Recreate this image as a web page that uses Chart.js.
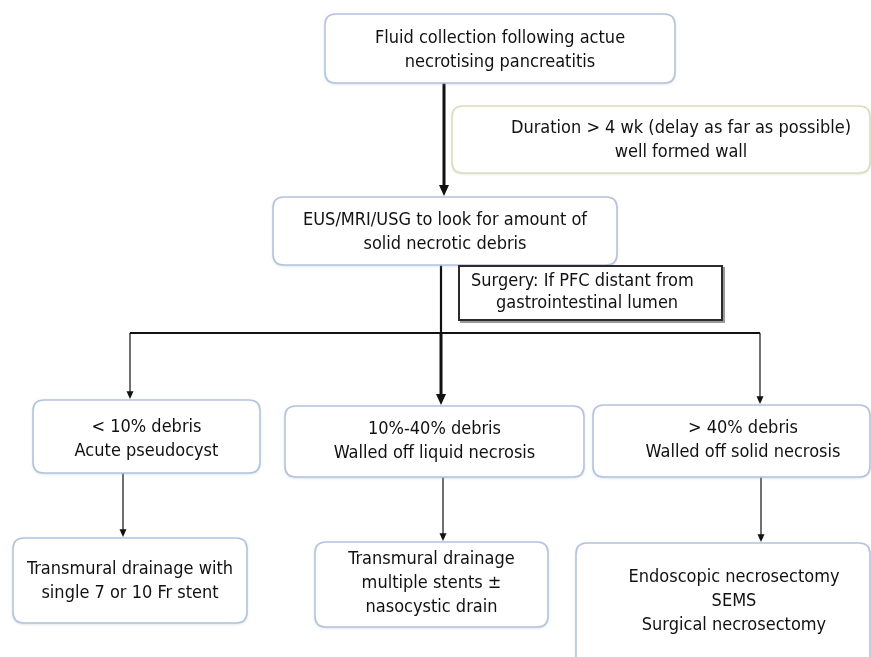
<!DOCTYPE html>
<html>
<head>
<meta charset="utf-8">
<script src="https://cdn.jsdelivr.net/npm/chart.js@4"></script>
<style>
  html, body { margin: 0; padding: 0; background: #fff; }
  #wrap { width: 871px; height: 657px; }
</style>
</head>
<body>
<div id="wrap"><canvas id="chart" width="871" height="657"></canvas></div>
<script>
// node texts of the flow chart
const nodeIds = ['start', 'duration', 'imaging', 'surgery', 'low', 'mid', 'high', 'lowTx', 'midTx', 'highTx'];
const nodeTexts = [
    ['Fluid collection following actue', 'necrotising pancreatitis'],
    ['Duration > 4 wk (delay as far as possible)', 'well formed wall'],
    ['EUS/MRI/USG to look for amount of', 'solid necrotic debris'],
    ['Surgery: If PFC distant from', 'gastrointestinal lumen'],
    ['< 10% debris', 'Acute pseudocyst'],
    ['10%-40% debris', 'Walled off liquid necrosis'],
    ['> 40% debris', 'Walled off solid necrosis'],
    ['Transmural drainage with', 'single 7 or 10 Fr stent'],
    ['Transmural drainage', 'multiple stents \u00b1', 'nasocystic drain'],
    ['Endoscopic necrosectomy', 'SEMS', 'Surgical necrosectomy']
];
// links between nodes (from, to)
const linkFrom = ['start', 'imaging', 'imaging', 'imaging', 'low', 'mid', 'high'];
const linkTo   = ['imaging', 'low', 'mid', 'high', 'lowTx', 'midTx', 'highTx'];

// layout of the page, in axis units (x: 0..871, y: 0..657 from top)
const layout = {
    start:    { box: [325, 14, 675, 83],   kind: 'blue', cy: 50 },
    duration: { box: [452, 106, 870, 173], kind: 'olive', cx: 681, cy: 140 },
    imaging:  { box: [273, 197, 617, 265], kind: 'blue', cy: 232 },
    surgery:  { box: [459, 266, 722, 320], kind: 'dark', align: 'left', tx: [471, 496], cy: 292 },
    low:      { box: [33, 400, 260, 473],  kind: 'blue', cy: 439 },
    mid:      { box: [285, 406, 584, 477], kind: 'blue', cy: 441 },
    high:     { box: [593, 405, 870, 477], kind: 'blue', cx: 743, cy: 440 },
    lowTx:    { box: [13, 538, 247, 623],  kind: 'blue', cy: 581 },
    midTx:    { box: [315, 542, 548, 627], kind: 'blue', cy: 583 },
    highTx:   { box: [576, 543, 870, 668], kind: 'blue', cx: 734, cy: 601 }
};
const splitY = 333;
const linkX = { start: 444, imaging: 441, low: 123, mid: 443, high: 761 };
const branchX = { low: 130, mid: 441, high: 760 };
const heavyLinks = ['start>imaging', 'imaging>mid'];

const flowPlugin = {
    id: 'flow',
    afterDatasetsDraw(chart) {
        const c = chart.ctx;
        const sx = chart.scales.x, sy = chart.scales.y;
        const px = v => sx.getPixelForValue(v);
        const py = v => sy.getPixelForValue(v);

        const roundRect = (x0, y0, x1, y1, r) => {
            c.beginPath();
            c.moveTo(x0 + r, y0);
            c.lineTo(x1 - r, y0);
            c.quadraticCurveTo(x1, y0, x1, y0 + r);
            c.lineTo(x1, y1 - r);
            c.quadraticCurveTo(x1, y1, x1 - r, y1);
            c.lineTo(x0 + r, y1);
            c.quadraticCurveTo(x0, y1, x0, y1 - r);
            c.lineTo(x0, y0 + r);
            c.quadraticCurveTo(x0, y0, x0 + r, y0);
            c.closePath();
        };

        const arrow = (x, y0, y1, w, head) => {
            c.save();
            c.strokeStyle = '#111';
            c.fillStyle = '#111';
            c.lineWidth = w;
            c.beginPath();
            c.moveTo(px(x), py(y0));
            c.lineTo(px(x), py(y1) - (head ? head * 1.6 : 0));
            c.stroke();
            if (head) {
                c.beginPath();
                c.moveTo(px(x), py(y1));
                c.lineTo(px(x) - head, py(y1) - head * 2.2);
                c.lineTo(px(x) + head, py(y1) - head * 2.2);
                c.closePath();
                c.fill();
            }
            c.restore();
        };

        // connectors
        linkFrom.forEach((from, i) => {
            const to = linkTo[i];
            const a = layout[from].box, b = layout[to].box;
            const thick = heavyLinks.includes(from + '>' + to);
            const w = thick ? 3 : 1.2, head = thick ? 5 : 3.5;
            if (from === 'imaging') {
                arrow(branchX[to], splitY, b[1] - 1, w, head);
            } else {
                arrow(linkX[from], a[3], b[1] - 1, w, head);
            }
        });
        // trunk and split bar
        arrow(linkX.imaging, layout.imaging.box[3], splitY, 2.2, 0);
        c.save();
        c.strokeStyle = '#111';
        c.lineWidth = 2;
        c.beginPath();
        c.moveTo(px(branchX.low), py(splitY));
        c.lineTo(px(branchX.high), py(splitY));
        c.stroke();
        c.restore();

        // boxes
        nodeIds.forEach((id, i) => {
            const L = layout[id];
            const [x0, y0, x1, y1] = L.box.map((v, k) => k % 2 ? py(v) : px(v));
            c.save();
            if (L.kind === 'dark') {
                c.fillStyle = '#fff';
                c.strokeStyle = '#9a9a9a';
                c.lineWidth = 2;
                c.strokeRect(x0 + 2, y0 + 2, x1 - x0, y1 - y0);
                c.fillRect(x0, y0, x1 - x0, y1 - y0);
                c.strokeStyle = '#2b2b2b';
                c.lineWidth = 2;
                c.strokeRect(x0, y0, x1 - x0, y1 - y0);
            } else {
                roundRect(x0, y0, x1, y1, 11);
                c.fillStyle = '#fff';
                c.shadowColor = L.kind === 'olive' ? 'rgba(200,200,160,0.6)' : 'rgba(150,170,200,0.5)';
                c.shadowBlur = 3;
                c.shadowOffsetY = 1;
                c.fill();
                c.shadowColor = 'transparent';
                c.strokeStyle = L.kind === 'olive' ? '#dcdcc0' : '#b4c4dc';
                c.lineWidth = 1.6;
                c.stroke();
            }
            c.restore();

            const lines = nodeTexts[i];
            const lh = 24;
            const cy = L.cy !== undefined ? py(L.cy) : (y0 + y1) / 2;
            const cx = L.cx !== undefined ? px(L.cx) : (x0 + x1) / 2;
            c.save();
            c.fillStyle = '#111';
            c.font = '18px "DejaVu Sans Condensed", "DejaVu Sans", sans-serif';
            c.textBaseline = 'middle';
            c.textAlign = L.align === 'left' ? 'left' : 'center';
            lines.forEach((t, k) => {
                const y = cy + (k - (lines.length - 1) / 2) * (L.align === 'left' ? 22 : lh);
                c.fillText(t, L.align === 'left' ? px(L.tx[k]) : cx, y);
            });
            c.restore();
        });
    }
};

new Chart(document.getElementById('chart'), {
    type: 'scatter',
    data: { datasets: [{ data: [], pointRadius: 0 }] },
    options: {
        responsive: false,
        animation: false,
        events: [],
        layout: { padding: 0 },
        plugins: { legend: { display: false }, tooltip: { enabled: false } },
        scales: {
            x: { type: 'linear', min: 0, max: 871, display: false },
            y: { type: 'linear', min: 0, max: 657, reverse: true, display: false }
        }
    },
    plugins: [flowPlugin]
});
</script>
</body>
</html>
